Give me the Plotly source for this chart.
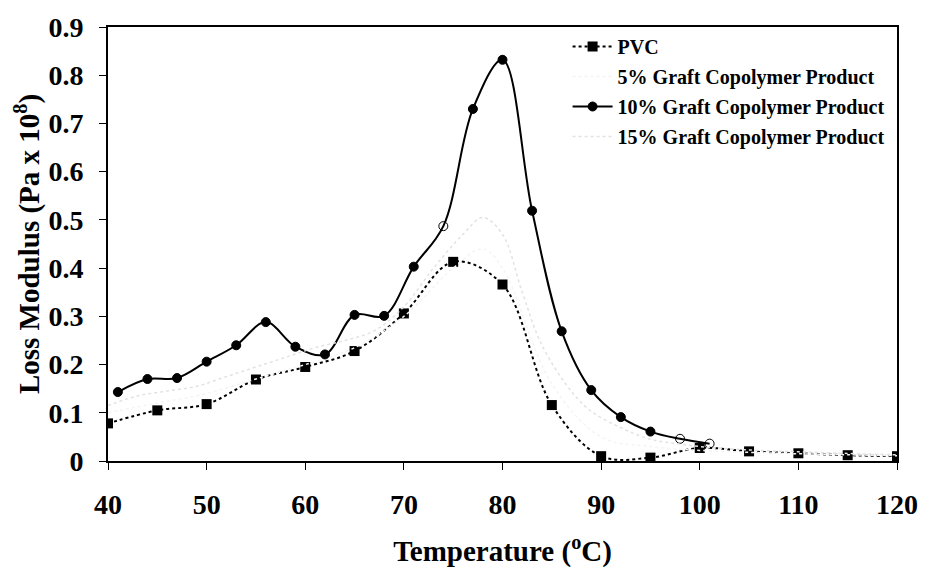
import plotly.graph_objects as go

# ---- data ----
pvc_t = [40, 45, 50, 55, 60, 65, 70, 75, 80, 85, 90, 95, 100, 105, 110, 115, 120]
pvc_v = [0.078, 0.105, 0.118, 0.169, 0.195, 0.228, 0.306, 0.413, 0.366, 0.116,
         0.010, 0.007, 0.027, 0.020, 0.016, 0.012, 0.010]

g5_t = [40, 45, 50, 55, 60, 65, 70, 75, 78, 80, 85, 90, 95, 100, 105, 110, 115, 120]
g5_v = [0.100, 0.120, 0.140, 0.170, 0.200, 0.235, 0.300, 0.400, 0.440, 0.400,
        0.160, 0.050, 0.030, 0.022, 0.018, 0.015, 0.013, 0.011]

g10_t = [41, 44, 47, 50, 53, 56, 59, 62, 65, 68, 71, 74, 77, 80, 83, 86, 89, 92, 95, 98, 101]
g10_v = [0.143, 0.170, 0.172, 0.206, 0.240, 0.288, 0.237, 0.221, 0.303, 0.301, 0.403,
         0.487, 0.730, 0.832, 0.519, 0.269, 0.147, 0.091, 0.061, 0.046, 0.036]
g10_sym = ["circle"] * 11 + ["circle-open"] + ["circle"] * 7 + ["circle-open"] * 2

g15_t = [40, 43, 46, 49, 52, 55, 58, 61, 64, 67, 70, 73, 76, 78, 80, 82, 84, 87, 89,
         92, 95, 98, 101, 104, 107, 110, 113, 116, 120]
g15_v = [0.115, 0.135, 0.145, 0.155, 0.175, 0.195, 0.215, 0.235, 0.250, 0.270, 0.320,
         0.400, 0.470, 0.505, 0.470, 0.350, 0.240, 0.144, 0.103, 0.069, 0.045, 0.035,
         0.028, 0.024, 0.021, 0.019, 0.017, 0.015, 0.013]

x_ticks = [40, 50, 60, 70, 80, 90, 100, 110, 120]
y_ticks = [0, 0.1, 0.2, 0.3, 0.4, 0.5, 0.6, 0.7, 0.8, 0.9]
y_tick_text = ["0", "0.1", "0.2", "0.3", "0.4", "0.5", "0.6", "0.7", "0.8", "0.9"]

FONT = "Liberation Serif, Times New Roman, serif"

fig = go.Figure()
fig.add_trace(go.Scatter(
    x=pvc_t, y=pvc_v, name="PVC", mode="lines+markers",
    line=dict(color="black", width=2, dash="dot", shape="spline", smoothing=1),
    marker=dict(symbol="square", size=10, color="black"),
    legendgroup="a"))
fig.add_trace(go.Scatter(
    x=g5_t, y=g5_v, name="5% Graft Copolymer Product", mode="lines",
    line=dict(color="#f4f4f4", width=1.5, dash="dot", shape="spline", smoothing=1),
    legendgroup="b"))
fig.add_trace(go.Scatter(
    x=g10_t, y=g10_v, name="10% Graft Copolymer Product", mode="lines+markers",
    line=dict(color="black", width=2, shape="spline", smoothing=1),
    marker=dict(symbol=g10_sym, size=9, color="black", line=dict(color="black", width=1)),
    legendgroup="c"))
fig.add_trace(go.Scatter(
    x=g15_t, y=g15_v, name="15% Graft Copolymer Product", mode="lines",
    line=dict(color="#e2e2e2", width=1.5, dash="dot", shape="spline", smoothing=1),
    legendgroup="d"))

fig.update_layout(
    width=930, height=577,
    margin=dict(l=108, r=23, t=16, b=116),
    paper_bgcolor="white", plot_bgcolor="white",
    font=dict(family=FONT, color="black", weight="bold"),
    showlegend=True,
    legend=dict(
        x=0.5825, y=1.0, xanchor="left", yanchor="top",
        font=dict(family=FONT, size=20, color="black", weight="bold"),
        bgcolor="rgba(0,0,0,0)", tracegroupgap=1, itemwidth=40,
        traceorder="grouped"),
    xaxis=dict(
        range=[40, 120], tickvals=x_ticks, ticks="outside", ticklen=7,
        tickwidth=1, tickcolor="black",
        tickfont=dict(family=FONT, size=28, color="black", weight="bold"),
        ticklabelstandoff=10,
        showline=True, linecolor="black", linewidth=2, mirror=True,
        showgrid=False, zeroline=False,
        title=dict(text="Temperature (<sup>o</sup>C)",
                   font=dict(family=FONT, size=29, color="black", weight="bold"),
                   standoff=22)),
    yaxis=dict(
        range=[0, 0.9], tickvals=y_ticks, ticktext=y_tick_text, ticks="outside",
        ticklen=7, tickwidth=1, tickcolor="black",
        tickfont=dict(family=FONT, size=28, color="black", weight="bold"),
        ticklabelstandoff=10,
        showline=True, linecolor="black", linewidth=2, mirror=True,
        showgrid=False, zeroline=False,
        title=dict(text="Loss Modulus (Pa x 10<sup>8</sup>)",
                   font=dict(family=FONT, size=29, color="black", weight="bold"),
                   standoff=0)),
)

fig.write_html("out.html")
